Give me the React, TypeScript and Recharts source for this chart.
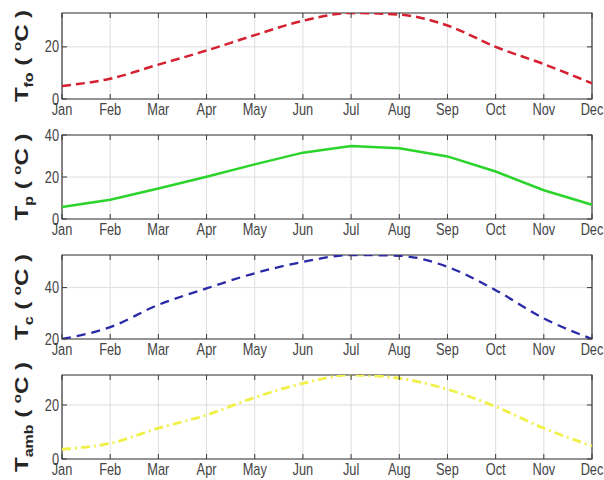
import { CartesianGrid, Line, LineChart, ReferenceArea, XAxis, YAxis } from "recharts";

const months = ["Jan", "Feb", "Mar", "Apr", "May", "Jun", "Jul", "Aug", "Sep", "Oct", "Nov", "Dec"];
const monthIdx = months.map((_, i) => i);

const tfo = [5, 7.8, 13.2, 18.6, 24.5, 30, 33, 32.4, 28.2, 20, 13.4, 6];
const tp = [5.7, 9.2, 14.5, 20.1, 26, 31.6, 34.8, 33.7, 29.8, 22.6, 13.7, 6.8];
const tc = [20, 24.6, 33.3, 39.7, 45.6, 50, 52.7, 52.4, 48.1, 39, 28, 20];
const tamb = [3.6, 5.8, 11.4, 16.3, 22.8, 28, 31.1, 29.9, 25.8, 19.4, 11.4, 4.8];

const rows = months.map((_, i) => ({ m: i, tfo: tfo[i], tp: tp[i], tc: tc[i], tamb: tamb[i] }));

const W = 604;
const LEFT = 62;
const RIGHT = 12;
const PLOT_W = W - LEFT - RIGHT;
const FONT = "'Liberation Sans', Arial, Helvetica, sans-serif";
const FRAME = "#3a3a3a";
const TEXT = "#444444";

type PanelProps = {
  dataKey: string;
  sub: string;
  domain: [number, number];
  ticks: number[];
  color: string;
  dash?: string;
  width: number;
  curve: "monotone" | "linear";
  top: number;
  plotH: number;
};

function Panel({ dataKey, sub, domain, ticks, color, dash, width, curve, top, plotH }: PanelProps) {
  const xTick = (p: any) => (
    <g>
      <line x1={p.x} x2={p.x} y1={p.y} y2={p.y - 5} stroke={FRAME} />
      <line x1={p.x} x2={p.x} y1={p.y - plotH} y2={p.y - plotH + 5} stroke={FRAME} />
      <text
        transform={`translate(${p.x},${p.y + 16}) scale(0.8,1)`}
        textAnchor="middle"
        fontSize={16}
        fontFamily={FONT}
        fill={TEXT}
      >
        {months[p.payload.value]}
      </text>
    </g>
  );

  const yTick = (p: any) => (
    <g>
      <line x1={p.x} x2={p.x + 5} y1={p.y} y2={p.y} stroke={FRAME} />
      <line x1={p.x + PLOT_W - 5} x2={p.x + PLOT_W} y1={p.y} y2={p.y} stroke={FRAME} />
      <text
        transform={`translate(${p.x - 3},${p.y}) scale(0.8,1)`}
        textAnchor="end"
        dominantBaseline="central"
        fontSize={16}
        fontFamily={FONT}
        fill={TEXT}
      >
        {p.payload.value}
      </text>
    </g>
  );

  const cy = top + plotH / 2;
  const yLabel = () => (
    <text
      transform={`translate(28,${cy}) scale(0.78,1) rotate(-90)`}
      textAnchor="middle"
      fontSize={24}
      fontWeight="bold"
      fontFamily={FONT}
      fill="#262626"
    >
      <tspan>T</tspan>
      <tspan dy={7} fontSize={16}>{sub}</tspan>
      <tspan dy={-7}> ( </tspan>
      <tspan dy={-9} fontSize={15}>o</tspan>
      <tspan dy={9}>C )</tspan>
    </text>
  );

  return (
    <LineChart width={W} height={120} data={rows} margin={{ top, right: RIGHT, bottom: 0, left: 0 }}>
      <CartesianGrid stroke="#dedede" />
      <XAxis
        dataKey="m"
        type="number"
        domain={[0, 11]}
        ticks={monthIdx}
        interval={0}
        height={120 - top - plotH}
        axisLine={false}
        tickLine={false}
        tickSize={0}
        tickMargin={0}
        tick={xTick}
      />
      <YAxis
        type="number"
        domain={domain}
        ticks={ticks}
        allowDataOverflow
        width={LEFT}
        axisLine={false}
        tickLine={false}
        tickSize={0}
        tickMargin={0}
        tick={yTick}
        label={yLabel}
      />
      <ReferenceArea x1={0} x2={11} y1={domain[0]} y2={domain[1]} fill="none" stroke={FRAME} strokeWidth={1.2} />
      <Line
        type={curve}
        dataKey={dataKey}
        stroke={color}
        strokeWidth={width}
        strokeDasharray={dash}
        dot={false}
        activeDot={false}
        isAnimationActive={false}
      />
    </LineChart>
  );
}

export default function App() {
  return (
    <div style={{ position: "absolute", left: 0, top: 0, width: W, height: 480, background: "#fff" }}>
      <div style={{ position: "absolute", left: 0, top: 0 }}>
        <Panel dataKey="tfo" sub="fo" domain={[0, 33]} ticks={[0, 20]} color="#d42030" dash="9 5" width={2.5} curve="monotone" top={13} plotH={86} />
      </div>
      <div style={{ position: "absolute", left: 0, top: 120 }}>
        <Panel dataKey="tp" sub="p" domain={[0, 40]} ticks={[0, 20, 40]} color="#2bd42b" width={2.5} curve="linear" top={15} plotH={84} />
      </div>
      <div style={{ position: "absolute", left: 0, top: 240 }}>
        <Panel dataKey="tc" sub="c" domain={[20, 52.7]} ticks={[20, 40]} color="#2a2aa8" dash="9 6" width={2.3} curve="monotone" top={15} plotH={84} />
      </div>
      <div style={{ position: "absolute", left: 0, top: 360 }}>
        <Panel dataKey="tamb" sub="amb" domain={[0, 31.1]} ticks={[0, 20]} color="#f0f048" dash="9 4 2 4" width={2.8} curve="monotone" top={15} plotH={84} />
      </div>
    </div>
  );
}
